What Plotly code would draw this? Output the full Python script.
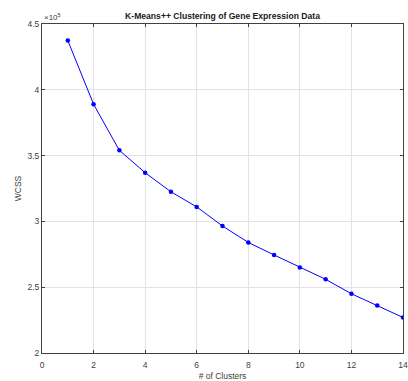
import plotly.graph_objects as go

clusters = [1, 2, 3, 4, 5, 6, 7, 8, 9, 10, 11, 12, 13, 14]
wcss = [437500, 389000, 354000, 337000, 322500, 311000, 296500, 284000, 274500, 265000, 256000, 245000, 236000, 227000]

x_ticks = [0, 2, 4, 6, 8, 10, 12, 14]
y_tick_vals = [200000, 250000, 300000, 350000, 400000, 450000]
y_tick_text = ["2", "2.5", "3", "3.5", "4", "4.5"]

axis_color = "#404040"
grid_color = "#e3e3e3"
font_family = "Liberation Sans, Arial, Helvetica, sans-serif"

fig = go.Figure()
fig.add_trace(go.Scatter(
    x=clusters, y=wcss, mode="lines+markers",
    line=dict(color="#0000ff", width=1),
    marker=dict(color="#0000ff", size=4.5),
    showlegend=False,
))

fig.update_layout(
    width=408, height=381,
    margin=dict(l=42, r=5, t=24, b=28),
    paper_bgcolor="white", plot_bgcolor="white",
    font=dict(family=font_family, size=8.5, color=axis_color),
    title=dict(text="<b>K-Means++ Clustering of Gene Expression Data</b>",
               x=0.5, xanchor="center", xref="paper",
               y=1 - 15.5 / 381, yanchor="middle",
               font=dict(size=8.6, color="#1a1a1a", family=font_family)),
    xaxis=dict(range=[0, 14], tickvals=x_ticks, showgrid=True, gridcolor=grid_color,
               gridwidth=1, zeroline=False, showline=True, linecolor=axis_color,
               linewidth=1, mirror="allticks", ticks="inside", ticklen=3,
               tickcolor=axis_color, ticklabeloverflow="allow", automargin=False,
               ticklabelstandoff=4,
               title=dict(text="# of Clusters", standoff=3, font=dict(size=8.5))),
    yaxis=dict(range=[200000, 450000], tickvals=y_tick_vals, ticktext=y_tick_text,
               showgrid=True, gridcolor=grid_color, gridwidth=1, zeroline=False,
               showline=True, linecolor=axis_color, linewidth=1, mirror="allticks",
               ticks="inside", ticklen=3, tickcolor=axis_color, automargin=False,
               title=dict(text="WCSS", standoff=4, font=dict(size=8.5))),
    annotations=[dict(text="×10<sup>5</sup>", xref="paper", yref="paper",
                      x=0, y=1, xanchor="left", yanchor="bottom", showarrow=False,
                      font=dict(size=8, color=axis_color))],
)

fig.write_html("out.html", config={"displayModeBar": False},
               post_script="document.body.style.margin='0';document.body.style.overflow='hidden';")
